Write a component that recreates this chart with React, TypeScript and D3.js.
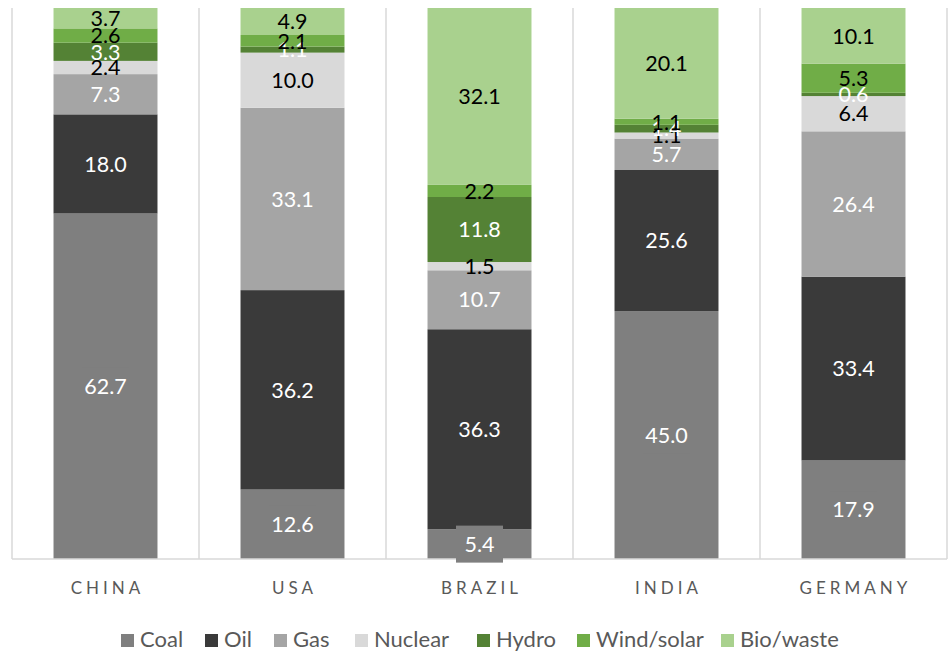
import React from "react";
import * as d3 from "d3";

const countries = ["CHINA", "USA", "BRAZIL", "INDIA", "GERMANY"];
const sources = ["Coal", "Oil", "Gas", "Nuclear", "Hydro", "Wind/solar", "Bio/waste"];
const coal = [62.7, 12.6, 5.4, 45.0, 17.9];
const oil = [18.0, 36.2, 36.3, 25.6, 33.4];
const gas = [7.3, 33.1, 10.7, 5.7, 26.4];
const nuclear = [2.4, 10.0, 1.5, 1.1, 6.4];
const hydro = [3.3, 1.1, 11.8, 1.4, 0.6];
const windSolar = [2.6, 2.1, 2.2, 1.1, 5.3];
const bioWaste = [3.7, 4.9, 32.1, 20.1, 10.1];
const colors = ["#7f7f7f", "#3a3a3a", "#a5a5a5", "#d9d9d9", "#548235", "#70ad47", "#a9d18e"];
const labelColors = ["#ffffff", "#ffffff", "#ffffff", "#000000", "#ffffff", "#000000", "#000000"];

const seriesValues = [coal, oil, gas, nuclear, hydro, windSolar, bioWaste];

const W = 948;
const H = 654;
const plot = { left: 12, right: 947, top: 8, bottom: 559 };
const FONT = "Lato, 'Open Sans', sans-serif";
const legendX = [121, 205, 274, 355, 477, 577, 721];

export default function App() {
  const rows = countries.map((c, i) => {
    const r: any = { country: c };
    sources.forEach((s, k) => (r[s] = seriesValues[k][i]));
    return r;
  });
  const stack = d3.stack<any>().keys(sources).offset(d3.stackOffsetExpand);
  const series = stack(rows);

  const x = d3
    .scaleBand<string>()
    .domain(countries)
    .range([plot.left, plot.right])
    .paddingInner(0.444)
    .paddingOuter(0.222);
  const y = d3.scaleLinear().domain([0, 1]).range([plot.bottom, plot.top]);
  const step = x.step();
  const boundaries = d3.range(countries.length + 1).map((i) => plot.left + i * step);

  return (
    <svg
      width={W}
      height={H}
      style={{ position: "absolute", left: 0, top: 0, background: "#fff" }}
      fontFamily={FONT}
    >
      {boundaries.map((bx, i) => (
        <line key={i} x1={bx} x2={bx} y1={plot.top} y2={plot.bottom} stroke="#d9d9d9" strokeWidth={1.5} />
      ))}
      {series.map((s, k) => (
        <g key={sources[k]} fill={colors[k]}>
          {s.map((d, i) => (
            <rect
              key={i}
              x={x(countries[i])}
              width={x.bandwidth()}
              y={y(d[1])}
              height={y(d[0]) - y(d[1])}
            />
          ))}
        </g>
      ))}
      <line x1={plot.left} x2={plot.right} y1={plot.bottom} y2={plot.bottom} stroke="#d9d9d9" strokeWidth={1.5} />
      {series.map((s, k) => (
        <g key={"l" + sources[k]}>
          {s.map((d, i) => {
            const cx = (x(countries[i]) as number) + x.bandwidth() / 2;
            const cy = (y(d[0]) + y(d[1])) / 2;
            const txt = seriesValues[k][i].toFixed(1);
            return (
              <g key={i}>
                {k === 0 && (
                  <rect x={cx - 23.5} y={cy - 18.5} width={47} height={37} fill={colors[0]} />
                )}
                <text
                  x={cx}
                  y={cy}
                  dy="0.36em"
                  textAnchor="middle"
                  fontSize={21.5}
                  fill={labelColors[k]}
                >
                  {txt}
                </text>
              </g>
            );
          })}
        </g>
      ))}
      {countries.map((c) => (
        <text
          key={c}
          x={(x(c) as number) + x.bandwidth() / 2 + 2}
          y={594}
          textAnchor="middle"
          fontSize={17}
          letterSpacing={4}
          fill="#595959"
        >
          {c}
        </text>
      ))}
      {sources.map((s, k) => (
        <g key={"lg" + s} transform={`translate(${legendX[k]},0)`}>
          <rect x={0} y={634} width={13} height={13} fill={colors[k]} />
          <text x={19} y={647} fontSize={22} fill="#595959">
            {s}
          </text>
        </g>
      ))}
    </svg>
  );
}
